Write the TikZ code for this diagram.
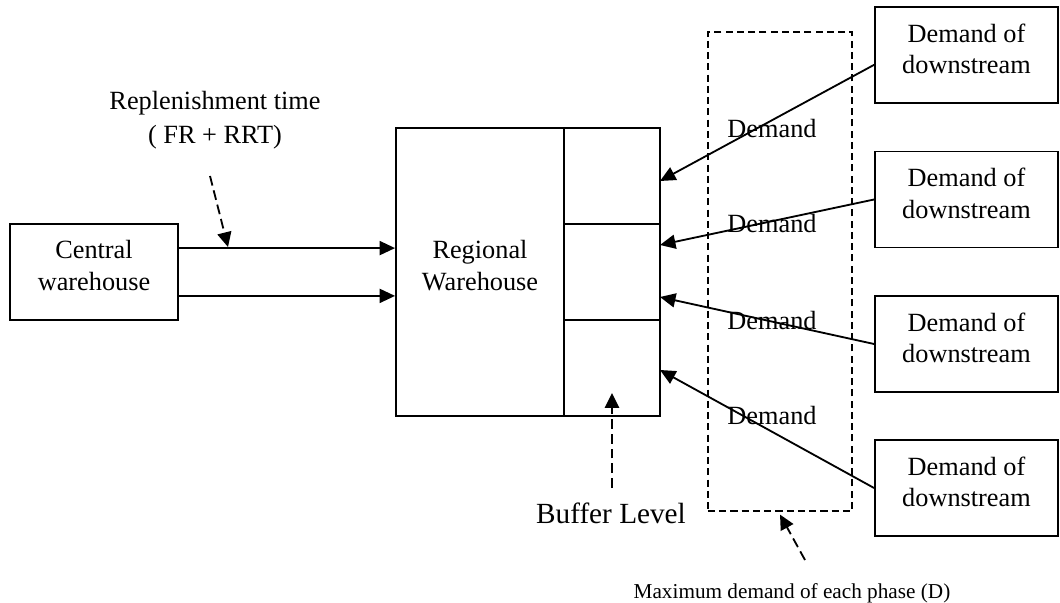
\documentclass[tikz,border=0pt]{standalone}
\usepackage{fontspec}
\setmainfont{Liberation Serif}
\usetikzlibrary{arrows.meta}

\begin{document}
\begin{tikzpicture}[x=0.025cm,y=-0.025cm,
  box/.style={draw,line width=1.3pt,align=center,inner sep=0pt,text depth=9pt,
    font=\fontsize{18.7}{22.5}\selectfont},
  lbl/.style={align=center,inner sep=0pt,font=\fontsize{18.7}{24.2}\selectfont},
  flow/.style={line width=1.3pt,-{Triangle[length=11pt,width=10pt]}},
  hint/.style={line width=1.3pt,dash pattern=on 7pt off 3.5pt,-{Triangle[length=10.5pt,width=10pt]}}]
\useasboundingbox (0,0) rectangle (1060,603);

% warehouses
\node[box,minimum width=4.2cm,minimum height=2.4cm] (cw) at (94,272) {Central\\warehouse};
\node[box,minimum width=4.2cm,minimum height=7.2cm] (rw) at (480,272) {Regional\\Warehouse};
\foreach \y [count=\i] in {176,272,368}
  \node[box,minimum width=2.4cm,minimum height=2.4cm] (buf\i) at (612,\y) {};

% downstream side
\node[draw,line width=1pt,dash pattern=on 5pt off 3pt,minimum width=3.6cm,minimum height=11.975cm] (phase) at (780,271.5) {};
\foreach \y [count=\i] in {55,199.5,344,488}
  \node[box,minimum width=4.575cm,minimum height=2.4cm] (dem\i) at (966.5,\y) {Demand of\\downstream};
\foreach \y [count=\i] in {129,224,321,416}
  \node[lbl] (dl\i) at (772,\y) {Demand};

\coordinate (in1) at (660,181);
\coordinate (in2) at (660,245);
\coordinate (in3) at (660,297);
\coordinate (in4) at (660,370);
\draw[flow] ([yshift=-7pt]dem1.west) -- (in1);
\draw[flow] (dem2.west) -- (in2);
\draw[flow] (dem3.west) -- (in3);
\draw[flow] (dem4.west) -- (in4);

% replenishment
\draw[flow] ([yshift=17pt]cw.east) -- ([yshift=17pt]rw.west);
\draw[flow] ([yshift=-17pt]cw.east) -- ([yshift=-17pt]rw.west);
\node[lbl] (rt) at (215,120.5) {Replenishment time\\( FR + RRT)};
\coordinate (rstart) at (210,176);
\coordinate (rtip) at (228,247);
\draw[hint] (rstart) -- (rtip);

% buffer and phase notes
\node[lbl,font=\fontsize{20.8}{25}\selectfont] (buflvl) at (611,513) {Buffer Level};
\coordinate (bstart) at (612,488);
\coordinate (btip) at (612,393);
\draw[hint] (bstart) -- (btip);
\node[lbl,font=\fontsize{15.1}{18}\selectfont] (maxd) at (792,593) {Maximum demand of each phase (D)};
\coordinate (mstart) at (805,560);
\draw[hint] (mstart) -- ([yshift=-2pt]phase.south);
\end{tikzpicture}
\end{document}
